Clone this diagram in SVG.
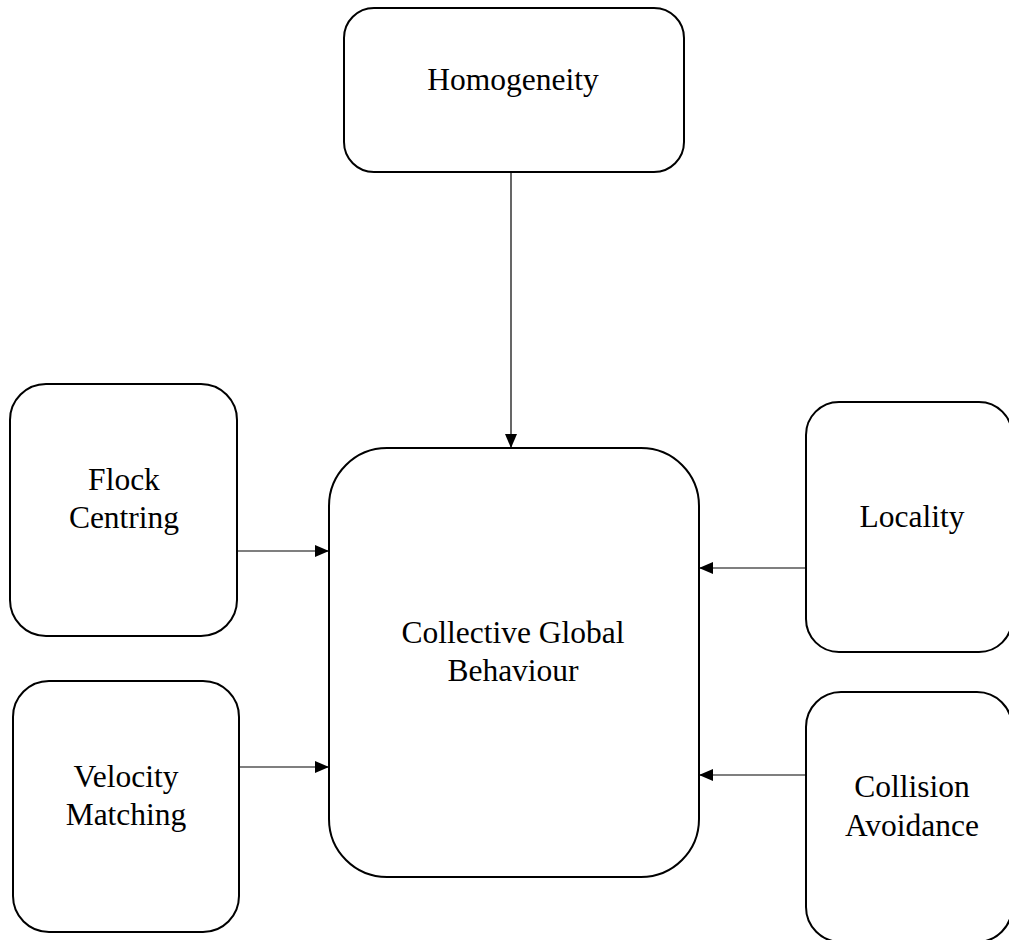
<svg xmlns="http://www.w3.org/2000/svg" width="1009" height="940" viewBox="0 0 1009 940">
  <defs>
    <marker id="arrow" markerWidth="14" markerHeight="12" refX="14" refY="6" orient="auto" markerUnits="userSpaceOnUse">
      <path d="M0,0 L14,6 L0,12 Z" fill="#000"/>
    </marker>
  </defs>
  <style>
    .box { fill: #fff; stroke: #000; stroke-width: 2; }
    .label { font-family: "Liberation Serif", "Times New Roman", serif; font-size: 31.5px; fill: #000; text-anchor: middle; }
    .edge { stroke: #000; stroke-width: 1.2; fill: none; marker-end: url(#arrow); }
  </style>
  <rect width="1009" height="940" fill="#fff"/>

  <g id="connectors">
    <line class="edge" x1="511" y1="172" x2="511" y2="448"/>
    <line class="edge" x1="237" y1="551" x2="329" y2="551"/>
    <line class="edge" x1="239" y1="767" x2="329" y2="767"/>
    <line class="edge" x1="806" y1="568" x2="699" y2="568"/>
    <line class="edge" x1="806" y1="775" x2="699" y2="775"/>
  </g>

  <g id="homogeneity">
    <rect class="box" x="344" y="8" width="340" height="164" rx="30" ry="30"/>
    <text class="label" x="513" y="90">Homogeneity</text>
  </g>

  <g id="flock-centring">
    <rect class="box" x="10" y="384" width="227" height="252" rx="36" ry="36"/>
    <text class="label" x="124" y="490">Flock</text>
    <text class="label" x="124" y="528">Centring</text>
  </g>

  <g id="velocity-matching">
    <rect class="box" x="13" y="681" width="226" height="251" rx="36" ry="36"/>
    <text class="label" x="126" y="787">Velocity</text>
    <text class="label" x="126" y="825">Matching</text>
  </g>

  <g id="collective-global-behaviour">
    <rect class="box" x="329" y="448" width="370" height="429" rx="58" ry="58"/>
    <text class="label" x="513" y="643">Collective Global</text>
    <text class="label" x="513" y="681">Behaviour</text>
  </g>

  <g id="locality">
    <rect class="box" x="806" y="402" width="206" height="250" rx="33" ry="33"/>
    <text class="label" x="912" y="527">Locality</text>
  </g>

  <g id="collision-avoidance">
    <rect class="box" x="806" y="692" width="206" height="250" rx="35" ry="35"/>
    <text class="label" x="912" y="797">Collision</text>
    <text class="label" x="912" y="836">Avoidance</text>
  </g>
</svg>
